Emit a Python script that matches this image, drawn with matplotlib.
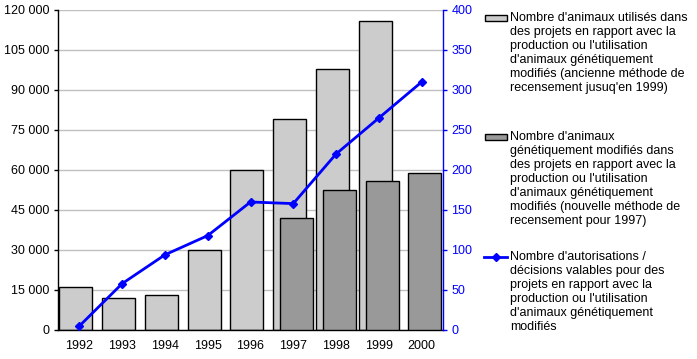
import matplotlib
matplotlib.use("Agg")
import matplotlib.pyplot as plt
import numpy as np
from matplotlib.patches import Rectangle
from matplotlib.lines import Line2D
from matplotlib.ticker import FuncFormatter, MultipleLocator

plt.rcParams["font.family"] = ["Liberation Sans", "DejaVu Sans"]
plt.rcParams["font.size"] = 9

# Data
years = ["1992", "1993", "1994", "1995", "1996", "1997", "1998", "1999", "2000"]
old_method = [16000, 12000, 13000, 30000, 60000, 79000, 98000, 116000, np.nan]
new_method = [np.nan, np.nan, np.nan, np.nan, np.nan, 42000, 52500, 56000, 59000]
authorisations = [5, 58, 94, 118, 160, 158, 220, 265, 310]

legend_labels = [
    "Nombre d'animaux utilisés dans\ndes projets en rapport avec la\nproduction ou l'utilisation\n"
    "d'animaux génétiquement\nmodifiés (ancienne méthode de\nrecensement jusuq'en 1999)",
    "Nombre d'animaux\ngénétiquement modifiés dans\ndes projets en rapport avec la\n"
    "production ou l'utilisation\nd'animaux génétiquement\nmodifiés (nouvelle méthode de\n"
    "recensement pour 1997)",
    "Nombre d'autorisations /\ndécisions valables pour des\nprojets en rapport avec la\n"
    "production ou l'utilisation\nd'animaux génétiquement\nmodifiés",
]

LIGHT = "#cccccc"
DARK = "#999999"
BLUE = "#0000ff"

W, H = 697, 359
fig = plt.figure(figsize=(W / 100, H / 100), dpi=100)
ax = fig.add_axes([58 / W, 29 / H, 385 / W, 320 / H])

x = np.arange(len(years))
bw = 0.77
ax.bar(x - 0.085, old_method, width=bw, color=LIGHT, edgecolor="black", linewidth=1, zorder=2)
ax.bar(x + 0.075, new_method, width=bw, color=DARK, edgecolor="black", linewidth=1, zorder=3)

ax.set_xlim(-0.5, len(years) - 0.5)
ax.set_ylim(0, 120000)
ax.yaxis.set_major_locator(MultipleLocator(15000))
ax.yaxis.set_major_formatter(FuncFormatter(lambda v, p: f"{int(v):,}".replace(",", " ")))
ax.grid(axis="y", color="#c0c0c0", linewidth=1, zorder=0)
ax.set_axisbelow(True)
ax.set_xticks(x)
ax.set_xticklabels(years)
ax.tick_params(axis="x", length=0, pad=7)
ax.tick_params(axis="y", length=3, width=1, pad=3, direction="out")
for s in ["top", "right"]:
    ax.spines[s].set_visible(False)
ax.spines["left"].set_linewidth(1)
ax.spines["bottom"].set_linewidth(1)

ax2 = ax.twinx()
ax2.plot(x, authorisations, color=BLUE, linewidth=2, marker="D", markersize=4.5, zorder=5)
ax2.set_ylim(0, 400)
ax2.yaxis.set_major_locator(MultipleLocator(50))
ax2.tick_params(axis="y", colors=BLUE, length=3, width=1, pad=3)
for s in ["top", "left", "bottom"]:
    ax2.spines[s].set_visible(False)
ax2.spines["right"].set_color(BLUE)
ax2.spines["right"].set_linewidth(1)

# Legend drawn by hand so the handles sit on the first line of each label
tops = [18, 137, 257]
for i, (lab, ty) in enumerate(zip(legend_labels, tops)):
    fy = 1 - ty / H
    fig.text(510 / W, 1 - (ty - 6) / H, lab, ha="left", va="top", fontsize=9,
             linespacing=1.22)
    if i < 2:
        fig.patches.append(Rectangle((485 / W, 1 - (ty + 3) / H), 22 / W, 6 / H,
                                     transform=fig.transFigure, facecolor=[LIGHT, DARK][i],
                                     edgecolor="black", linewidth=1))
    else:
        fig.lines.append(Line2D([484 / W, 507 / W], [fy, fy], transform=fig.transFigure,
                                color=BLUE, linewidth=2))
        fig.lines.append(Line2D([495.5 / W], [fy], transform=fig.transFigure,
                                color=BLUE, marker="D", markersize=4))

fig.savefig("out.png", dpi=100)
